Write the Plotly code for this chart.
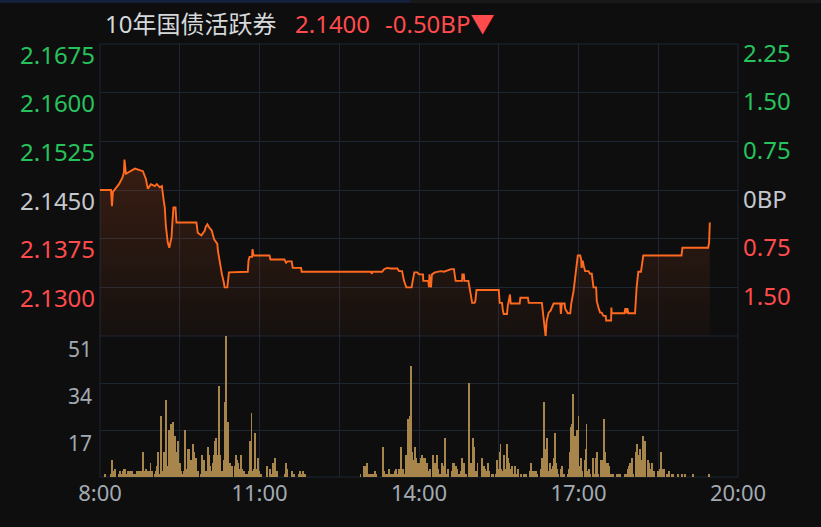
import plotly.graph_objects as go

# ---------------- data ----------------
# price line: minutes after 08:00, yield value
price_min = [0, 12.4, 13.5, 14.6, 21.4, 25.3, 27, 27.6, 29.3, 32.6, 39.4, 48.4, 50.1, 51.8, 52.9, 54,
             55.1, 57.4, 61.9, 64.1, 67.5, 69.8, 72, 73.1, 74.3, 75.4, 76.5, 78.2, 79.9, 80.7, 81.8,
             82.9, 85.2, 85.5, 86.3, 108.8, 109.1, 110.3, 114.4, 118.1, 119.3, 121.2, 123.8, 126,
             128.8, 132.4, 133.1, 134.7, 136.1, 137.6, 139.8, 140.6, 143.7, 144.3, 145.5, 166.8,
             167.6, 168.8, 171.6, 172.1, 173.3, 191.3, 192.4, 208.1, 210, 211.8, 216.3, 217.5,
             226.9, 227.6, 305.7, 306.6, 307.7, 318.4, 320.6, 324, 328.2, 335.6, 337.5, 340.9,
             343.1, 345.7, 351.7, 352.5, 354.7, 358.1, 360, 364.5, 364.8, 370.5, 371.3, 371.8,
             373.5, 374.6, 378, 384.8, 388.1, 396.3, 399.4, 401.3, 408.7, 408.9, 410.6, 411.2,
             415.7, 417, 420, 422.7, 423.6, 424.9, 450, 451.1, 453.7, 454.5, 455.6, 459.3, 460.1,
             462.7, 463.5, 473.6, 474.4, 482.9, 483.8, 498.7, 499.5, 500.6, 502.9, 504, 506.3,
             508.5, 511.9, 519.4, 520.1, 521.2, 524.3, 525, 527.9, 530.7, 531.7, 534.4, 536.3,
             538.1, 539.2, 541.9, 543, 543.4, 544.8, 545.9, 547.5, 551.3, 553.2, 555, 556.9,
             559.9, 560.6, 562.5, 564.4, 566.2, 568.1, 570.7, 571.2, 576.8, 577.1, 577.5, 591.8,
             592.9, 594, 595.1, 596.3, 603.8, 605.6, 607.5, 610.5, 612, 613.1, 656.2, 657.3,
             686.3, 687.4, 688.2]
price_val = [2.1450, 2.1450, 2.1425, 2.1447, 2.1459, 2.1469, 2.1477, 2.1497, 2.1475, 2.1478, 2.1483,
             2.1479, 2.1474, 2.1467, 2.1459, 2.1452, 2.1454, 2.1459, 2.1456, 2.1459, 2.1454, 2.1456,
             2.1433, 2.1423, 2.1395, 2.1375, 2.1369, 2.1361, 2.1370, 2.1377, 2.1402, 2.1423, 2.1423,
             2.1415, 2.1400, 2.1400, 2.1393, 2.1384, 2.1380, 2.1387, 2.1393, 2.1397, 2.1391, 2.1388,
             2.1374, 2.1367, 2.1356, 2.1341, 2.1328, 2.1320, 2.1307, 2.1300, 2.1300, 2.1310, 2.1323,
             2.1324, 2.1341, 2.1347, 2.1347, 2.1359, 2.1349, 2.1349, 2.1343, 2.1343, 2.1338, 2.1340,
             2.1340, 2.1330, 2.1330, 2.1324, 2.1324, 2.1321, 2.1324, 2.1324, 2.1328, 2.1330, 2.1329,
             2.1329, 2.1325, 2.1325, 2.1310, 2.1300, 2.1300, 2.1307, 2.1323, 2.1323, 2.1320, 2.1320,
             2.1310, 2.1310, 2.1300, 2.1320, 2.1300, 2.1320, 2.1323, 2.1325, 2.1324, 2.1328, 2.1328,
             2.1310, 2.1310, 2.1320, 2.1320, 2.1310, 2.1310, 2.1300, 2.1276, 2.1276, 2.1279, 2.1296,
             2.1296, 2.1276, 2.1276, 2.1266, 2.1259, 2.1259, 2.1271, 2.1289, 2.1275, 2.1275, 2.1284,
             2.1284, 2.1276, 2.1276, 2.1264, 2.1251, 2.1224, 2.1248, 2.1261, 2.1264, 2.1275, 2.1275,
             2.1259, 2.1275, 2.1275, 2.1267, 2.1260, 2.1260, 2.1274, 2.1294, 2.1318, 2.1343, 2.1349,
             2.1349, 2.1343, 2.1330, 2.1341, 2.1333, 2.1325, 2.1325, 2.1321, 2.1321, 2.1300, 2.1300,
             2.1279, 2.1269, 2.1261, 2.1261, 2.1256, 2.1256, 2.1249, 2.1249, 2.1269, 2.1260, 2.1260,
             2.1268, 2.1260, 2.1268, 2.1260, 2.1260, 2.1300, 2.1324, 2.1324, 2.1338, 2.1349, 2.1349,
             2.1361, 2.1361, 2.1369, 2.1400]

# volume bars: minutes after 08:00, volume
vol_min = [6, 12, 14, 15, 17, 21, 23, 25, 26, 27, 28, 29, 31, 33, 34, 35, 36, 37, 39, 42, 43, 44, 45, 46,
           47, 49, 50, 52, 53, 54, 55, 57, 59, 62, 63, 64, 65, 66, 68, 69, 70, 71, 72, 73, 75, 76, 77,
           78, 79, 80, 81, 82, 84, 85, 86, 87, 88, 89, 90, 92, 94, 95, 96, 97, 98, 99, 100, 101, 102,
           103, 105, 106, 107, 108, 109, 111, 114, 115, 116, 117, 118, 120, 121, 122, 123, 124, 125,
           126, 127, 129, 130, 131, 132, 133, 134, 135, 136, 138, 139, 140, 141, 142, 143, 144, 145,
           147, 148, 149, 152, 153, 154, 155, 156, 157, 159, 160, 161, 162, 163, 165, 166, 168, 169,
           170, 171, 172, 174, 175, 176, 177, 178, 179,
           180, 182, 188, 192, 194, 195, 196, 197, 198, 199, 200, 209, 210, 211, 217, 218, 219, 225,
           226, 227, 229, 231,
           294, 298, 300, 301, 304, 306, 307, 308, 310, 312, 319, 321, 323, 324, 325, 326, 328, 330,
           331, 333, 334, 335, 336, 337, 339, 340, 341, 342, 344, 345, 346, 348, 349, 350, 351, 352,
           353, 354, 355, 357, 358, 359,
           360, 361, 362, 363, 364, 366, 367, 368, 369, 370, 371, 372, 373, 376, 377, 378, 379, 380,
           381, 382, 384, 385, 386, 387, 388, 389, 390, 393, 397, 398, 399, 400, 402, 403, 404, 405,
           407, 408, 409, 411, 412, 413, 416, 417, 418, 420, 421, 422, 423, 424, 425, 426, 431, 433,
           434, 435, 436, 438, 439, 442, 444, 447, 448, 449, 451, 452, 453, 454, 456, 457, 458, 459,
           460, 461, 462, 463, 465, 466, 467, 468, 469, 470, 471, 472, 475, 478, 479, 480, 481, 485,
           486, 487, 489, 490, 492, 493, 498, 499, 501, 502, 503, 504, 505, 506, 507, 508, 510, 511,
           512, 513, 514, 515, 516, 517, 520, 521, 524, 528, 529, 530, 531, 532, 533, 534, 535, 537,
           538, 539,
           540, 541, 542, 543, 544, 547, 548, 549, 550, 552, 553, 556, 557, 560, 561, 562, 565, 566,
           567, 568, 569, 570, 571, 573, 574, 575, 576, 577, 579, 583, 586, 587, 592, 594, 595, 596,
           597, 598, 600, 601, 605, 606, 607, 609, 611, 612, 613, 614, 615, 618, 619, 620, 621, 622,
           623, 624, 625, 630, 632, 633, 634, 636, 637, 640, 642, 646, 647, 652, 657, 660, 669, 687]
vol_val = [1, 1, 6, 2, 3, 1, 2, 1, 2, 3, 3, 1, 2, 2, 2, 2, 2, 1, 1, 2, 2, 2, 2, 1,
           2, 9, 2, 3, 1, 2, 2, 5, 2, 1, 2, 4, 9, 2, 1, 22, 2, 1, 9, 9, 28, 1, 4,
           17, 5, 19, 5, 20, 8, 15, 9, 9, 13, 3, 5, 2, 1, 2, 17, 1, 3, 10, 10, 10, 1,
           6, 12, 9, 2, 7, 2, 2, 1, 8, 4, 6, 2, 2, 2, 11, 8, 4, 1,
           2, 5, 8, 13, 14, 4, 8, 33, 2, 8, 2, 1, 6, 27, 51, 9, 20, 2,
           5, 3, 4, 4, 8, 1, 6, 5, 3, 8, 3, 1, 1, 2, 1, 1, 2, 13,
           2, 23, 2, 3, 16, 2, 3, 7, 2,
           1, 1, 4, 3, 1, 5, 3, 7, 1, 2, 2, 1, 5, 3, 2, 1, 1, 1,
           2, 1, 2, 1,
           1, 4, 4, 5, 1, 1, 1, 1, 2, 1, 11, 2, 1, 1, 1, 3, 1, 1,
           1, 2, 3, 1, 1, 3, 1, 11, 1, 3, 1, 8, 2, 21, 6, 22, 40, 9,
           6, 2, 11, 7, 5, 5,
           3, 5, 7, 8, 7, 6, 7, 5, 5, 2, 1, 3, 1, 8, 4, 5, 1, 8,
           3, 1, 1, 1, 5, 4, 2, 14, 1, 3, 2, 5, 5, 1, 4, 3, 1, 1,
           2, 1, 7, 5, 1, 1, 34, 33, 5, 5, 14, 11, 2, 2, 1, 5, 7, 4,
           2, 3, 2, 5, 2, 1, 1, 1, 6, 3, 9, 12, 3, 2, 8, 2, 3, 12,
           2, 7, 5, 3, 4, 1, 1, 4, 1, 1, 1, 3, 1, 1, 1, 1, 1, 2,
           5, 2, 2, 2, 2, 1, 3, 7, 27, 8, 10, 14, 1, 1, 2, 5, 3, 4,
           7, 16, 7, 5, 3, 1, 3, 4, 1, 1, 3, 9, 17, 18, 19, 30, 15, 15,
           17, 11,
           22, 4, 3, 7, 2, 6, 10, 19, 2, 3, 1, 7, 1, 7, 9, 1, 6, 6,
           6, 3, 21, 9, 5, 5, 4, 2, 1, 1, 1, 1, 1, 1, 1, 1, 1, 3,
           4, 5, 7, 1, 9, 12, 8, 10, 1, 6, 15, 13, 13, 6, 2, 5, 3, 2,
           5, 1, 2, 2, 3, 9, 3, 1, 3, 1, 2, 1, 1, 1, 1, 1, 1, 1]

x_tick_vals = [0, 90, 180, 270, 360, 450, 540, 630, 720]
x_tick_text = ["8:00", "", "11:00", "", "14:00", "", "17:00", "", "20:00"]
price_ticks = [2.1675, 2.1600, 2.1525, 2.1450, 2.1375, 2.1300]
price_tick_text = ["2.1675", "2.1600", "2.1525", "2.1450", "2.1375", "2.1300"]
bp_tick_text = ["2.25", "1.50", "0.75", "0BP", "0.75", "1.50"]
vol_ticks = [51, 34, 17]
title_name = "10年国债活跃券"
title_price = "2.1400"
title_change = "-0.50BP▼"

# ---------------- style ----------------
BG = "#0e0e0e"
GRID = "#1c2733"
GREEN = "#27c25c"
RED = "#ff4b4b"
GREY = "#c4c8cc"
AXGREY = "#a3aab2"
FONT = "Noto Sans, Noto Sans CJK SC, sans-serif"
SPLIT = 141 / 433

fig = go.Figure()
fig.add_trace(go.Scatter(
    x=price_min, y=price_val, mode="lines",
    line=dict(color="#ff6a1e", width=1.9),
    fill="tozeroy",
    fillgradient=dict(type="vertical", start=2.1225, stop=2.150,
                      colorscale=[[0, "rgba(255,100,40,0.03)"], [1, "rgba(255,100,40,0.18)"]]),
    xaxis="x", yaxis="y", hoverinfo="skip", showlegend=False))
fig.add_trace(go.Bar(
    x=vol_min, y=vol_val, width=1.05,
    marker=dict(color="#a8864b", line=dict(width=0)),
    xaxis="x", yaxis="y2", hoverinfo="skip", showlegend=False))

fig.update_layout(
    width=821, height=527,
    margin=dict(l=100, r=83, t=44, b=50),
    paper_bgcolor=BG, plot_bgcolor=BG,
    font=dict(family=FONT),
    bargap=0,
    xaxis=dict(domain=[0, 1], range=[0, 720], anchor="y2",
               tickmode="array", tickvals=x_tick_vals, ticktext=x_tick_text,
               showgrid=True, gridcolor=GRID, gridwidth=1, zeroline=False,
               ticks="", ticklabelstandoff=1,
               tickfont=dict(size=22, color=AXGREY, family=FONT)),
    yaxis=dict(domain=[SPLIT, 1], range=[2.1225, 2.1675],
               tickmode="array", tickvals=price_ticks, showticklabels=False,
               showgrid=True, gridcolor=GRID, zeroline=False),
    yaxis2=dict(domain=[0, SPLIT], range=[0, 51],
                tickmode="array", tickvals=vol_ticks, showticklabels=False,
                showgrid=True, gridcolor=GRID, zeroline=False),
)

# borders
fig.add_shape(type="rect", xref="paper", yref="paper", x0=0, x1=1, y0=0, y1=1,
              line=dict(color=GRID, width=1), layer="below")
fig.add_shape(type="line", xref="paper", yref="paper", x0=0, x1=1, y0=SPLIT, y1=SPLIT,
              line=dict(color=GRID, width=1), layer="below")
# top strip
fig.add_shape(type="rect", xref="paper", yref="paper", x0=-100 / 638, x1=310 / 638,
              y0=474 / 433, y1=477 / 433, line=dict(width=0), fillcolor="#13213a")
fig.add_shape(type="rect", xref="paper", yref="paper", x0=310 / 638, x1=721 / 638,
              y0=474 / 433, y1=477 / 433, line=dict(width=0), fillcolor="#19191b")

# price axis labels (left) and BP labels (right)
colors = [GREEN, GREEN, GREEN, GREY, RED, RED]
for v, t, b, c in zip(price_ticks, price_tick_text, bp_tick_text, colors):
    fig.add_annotation(x=0, xref="paper", y=v, yref="y", text=t, showarrow=False,
                       xanchor="right", yanchor="middle", xshift=-3, yshift=-10,
                       font=dict(size=24, color=c, family=FONT))
    fig.add_annotation(x=1, xref="paper", y=v, yref="y", text=b, showarrow=False,
                       xanchor="left", yanchor="middle", xshift=3, yshift=-8,
                       font=dict(size=24, color=c, family=FONT))

for v in vol_ticks:
    fig.add_annotation(x=0, xref="paper", y=v, yref="y2", text=str(v), showarrow=False,
                       xanchor="right", yanchor="middle", xshift=-6, yshift=-13,
                       font=dict(size=21, color=AXGREY, family=FONT))

# title
fig.add_annotation(x=0, xref="paper", y=1, yref="paper", text=title_name, showarrow=False,
                   xanchor="left", yanchor="middle", xshift=3, yshift=21,
                   font=dict(size=24, color="#d6d9dc", family=FONT))
fig.add_annotation(x=0, xref="paper", y=1, yref="paper", text=title_price, showarrow=False,
                   xanchor="left", yanchor="middle", xshift=193, yshift=21,
                   font=dict(size=24, color=RED, family=FONT))
fig.add_annotation(x=0, xref="paper", y=1, yref="paper", text=title_change, showarrow=False,
                   xanchor="left", yanchor="middle", xshift=283, yshift=21,
                   font=dict(size=24, color=RED, family=FONT))

fig.write_html("out.html", config={"displayModeBar": False},
               post_script="document.body.style.margin='0';document.body.style.overflow='hidden';")
